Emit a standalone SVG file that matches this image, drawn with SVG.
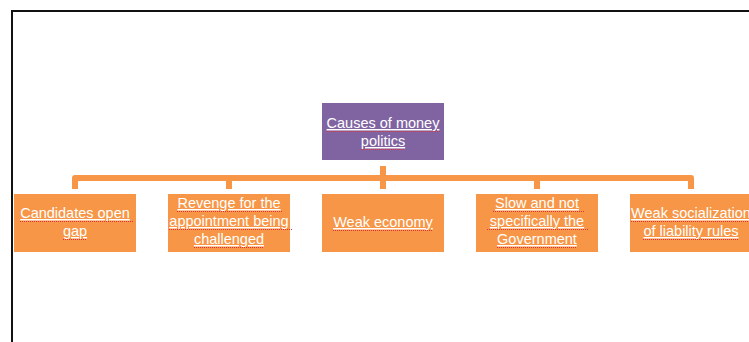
<svg xmlns="http://www.w3.org/2000/svg" width="749" height="342" viewBox="0 0 749 342">
<style>
.frame{fill:none;stroke:#111;stroke-width:2}
.box{fill:#F79646}
.root{fill:#8064A2}
.conn{fill:none;stroke:#F79646;stroke-width:6;stroke-linejoin:round}
.t{font-family:"Liberation Sans",Arial,sans-serif;font-size:14.5px;fill:#fff;text-anchor:middle;text-decoration:underline}
.sq{stroke:#e0303a;stroke-width:1;stroke-dasharray:1 1;fill:none}
</style>
<rect width="749" height="342" fill="#fff"/>
<path class="frame" d="M12,342 V11 H749"/>
<g id="connectors">
<path class="conn" d="M75,189 V178 H691 V189"/>
<path class="conn" d="M229,178 V189 M537,178 V189 M383,166 V189"/>
</g>
<g id="root">
<rect class="root" x="322" y="103" width="122" height="57"/>
<text class="t" x="383" y="128">Causes of money</text>
<text class="t" x="383" y="146">politics</text>
<path class="sq" d="M327,131.5 H440 M361,149.5 H405"/>
</g>
<g id="n1">
<rect class="box" x="14" y="194" width="122" height="58"/>
<text class="t" x="75" y="218">Candidates open </text>
<text class="t" x="75" y="236">gap</text>
<path class="sq" d="M20,221.5 H133 M63,239.5 H87"/>
</g>
<g id="n2">
<rect class="box" x="168" y="194" width="122" height="58"/>
<text class="t" x="229" y="208">Revenge for the </text>
<text class="t" x="229" y="226">appointment being</text>
<text class="t" x="229" y="244">challenged</text>
<path class="sq" d="M177,211.5 H283 M169,229.5 H292 M194,247.5 H264"/>
</g>
<g id="n3">
<rect class="box" x="322" y="194" width="122" height="58"/>
<text class="t" x="383" y="227">Weak economy</text>
<path class="sq" d="M333,230.5 H433"/>
</g>
<g id="n4">
<rect class="box" x="476" y="194" width="122" height="58"/>
<text class="t" x="537" y="208">Slow and not </text>
<text class="t" x="537" y="226">specifically the </text>
<text class="t" x="537" y="244">Government</text>
<path class="sq" d="M493,211.5 H584 M487,229.5 H589 M497,247.5 H577"/>
</g>
<g id="n5">
<rect class="box" x="630" y="194" width="122" height="58"/>
<text class="t" x="691" y="218">Weak socialization</text>
<text class="t" x="691" y="236">of liability rules</text>
<path class="sq" d="M631,221.5 H751 M643,239.5 H739"/>
</g>
</svg>
